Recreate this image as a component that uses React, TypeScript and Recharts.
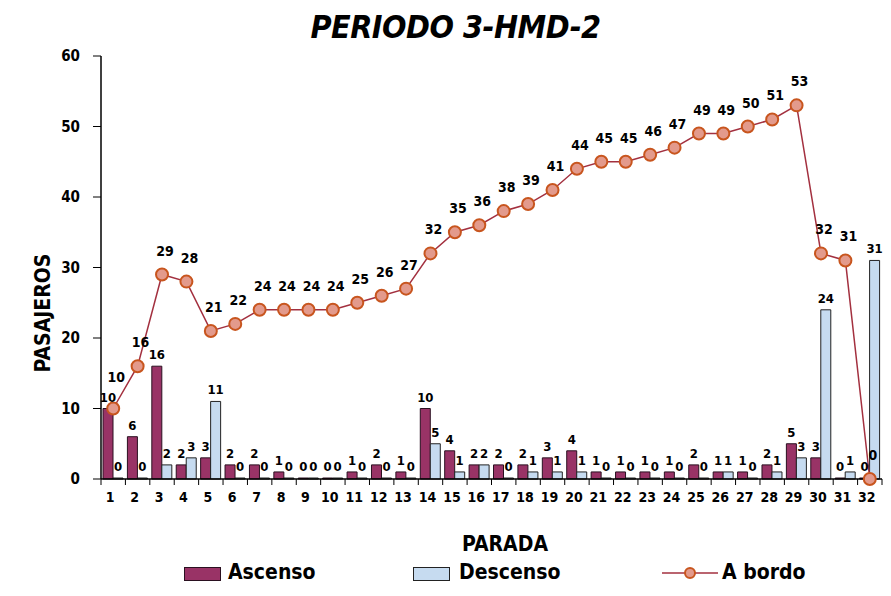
import React from "react";
import {
  ComposedChart,
  Bar,
  Line,
  XAxis,
  YAxis,
  LabelList,
} from "recharts";

const stops = [
  "1", "2", "3", "4", "5", "6", "7", "8", "9", "10", "11", "12", "13", "14", "15", "16",
  "17", "18", "19", "20", "21", "22", "23", "24", "25", "26", "27", "28", "29", "30", "31", "32",
];
const ascenso = [10, 6, 16, 2, 3, 2, 2, 1, 0, 0, 1, 2, 1, 10, 4, 2, 2, 2, 3, 4, 1, 1, 1, 1, 2, 1, 1, 2, 5, 3, 0, 0];
const descenso = [0, 0, 2, 3, 11, 0, 0, 0, 0, 0, 0, 0, 0, 5, 1, 2, 0, 1, 1, 1, 0, 0, 0, 0, 0, 1, 0, 1, 3, 24, 1, 31];
const aBordo = [10, 16, 29, 28, 21, 22, 24, 24, 24, 24, 25, 26, 27, 32, 35, 36, 38, 39, 41, 44, 45, 45, 46, 47, 49, 49, 50, 51, 53, 32, 31, 0];
const yTicks = [0, 10, 20, 30, 40, 50, 60];

const data = stops.map((s, i) => ({
  stop: s,
  ascenso: ascenso[i],
  descenso: descenso[i],
  aBordo: aBordo[i],
}));

const FONT = "'Liberation Sans Narrow', 'DejaVu Sans Condensed', 'Liberation Sans', sans-serif";
const ASC = "#993366";
const DESC = "#C6DBF0";
const LINE = "#A3303F";
const DOT_FILL = "#E39A8C";
const DOT_STROKE = "#C8551E";

const XTick = (props: any) => {
  const { x, y, payload, index } = props;
  const half = payload?.offset ?? 12.2;
  return (
    <g>
      <line x1={x - half} y1={y - 8} x2={x - half} y2={y - 2} stroke="#000" />
      {index === stops.length - 1 && (
        <line x1={x + half} y1={y - 8} x2={x + half} y2={y - 2} stroke="#000" />
      )}
      <text
        x={x - 3}
        y={y + 15}
        textAnchor="middle"
        fontFamily={FONT}
        fontWeight="bold"
        fontSize={14}
        fill="#000"
      >
        {payload.value}
      </text>
    </g>
  );
};

const LineLabel = (props: any) => {
  const { x, y, value, index } = props;
  // first point shares space with the bar label, nudge it up like the original
  const dy = index === 0 ? -8 : 0;
  return (
    <text
      x={x + 3}
      y={y - 19 + dy}
      textAnchor="middle"
      fontFamily={FONT}
      fontWeight="bold"
      fontSize={14}
      fill="#000"
    >
      {value}
    </text>
  );
};

const labelStyle = { fontFamily: FONT, fontWeight: "bold", fontSize: 13, fill: "#000" };

export default function App() {
  return (
    <div
      style={{
        position: "absolute",
        left: 0,
        top: 0,
        width: 891,
        height: 596,
        background: "#fff",
        overflow: "hidden",
        fontFamily: FONT,
      }}
    >
      <div
        style={{
          position: "absolute",
          top: 9,
          left: 0,
          width: 911,
          textAlign: "center",
          fontSize: 32,
          fontWeight: "bold",
          fontStyle: "italic",
          lineHeight: "36px",
          letterSpacing: -0.5,
        }}
      >
        PERIODO 3-HMD-2
      </div>
      <ComposedChart
        width={891}
        height={596}
        data={data}
        margin={{ top: 56, right: 9, left: 0, bottom: 0 }}
        barGap={0}
        barCategoryGap="9%"
      >
        <XAxis
          dataKey="stop"
          height={117}
          axisLine={{ stroke: "#000", strokeWidth: 1.5 }}
          tickLine={false}
          interval={0}
          tick={<XTick />}
          label={() => (
            <text
              x={505}
              y={551}
              textAnchor="middle"
              fontFamily={FONT}
              fontWeight="bold"
              fontSize={21}
              fill="#000"
            >
              PARADA
            </text>
          )}
        />
        <XAxis
          xAxisId="top"
          orientation="top"
          dataKey="stop"
          height={0}
          tick={false}
          tickLine={false}
          axisLine={{ stroke: "#222", strokeWidth: 1.5 }}
        />
        <YAxis
          width={101}
          domain={[0, 60]}
          ticks={yTicks}
          interval={0}
          axisLine={{ stroke: "#000", strokeWidth: 1.5 }}
          tickLine={{ stroke: "#000" }}
          tickSize={8}
          tickMargin={13}
          tick={{ fontFamily: FONT, fontWeight: "bold", fontSize: 15, fill: "#000" }}
          label={() => (
            <text
              x={50}
              y={313}
              transform="rotate(-90 50 313)"
              textAnchor="middle"
              fontFamily={FONT}
              fontWeight="bold"
              fontSize={21}
              fill="#000"
            >
              PASAJEROS
            </text>
          )}
        />
        <YAxis
          yAxisId="right"
          orientation="right"
          width={0}
          domain={[0, 60]}
          tick={false}
          tickLine={false}
          axisLine={{ stroke: "#333", strokeWidth: 1.5 }}
        />
        <Bar
          dataKey="ascenso"
          name="Ascenso"
          fill={ASC}
          stroke="#2a1020"
          strokeWidth={1}
          barSize={10}
          minPointSize={1}
          isAnimationActive={false}
        >
          <LabelList dataKey="ascenso" position="top" offset={7} style={labelStyle} />
        </Bar>
        <Bar
          dataKey="descenso"
          name="Descenso"
          fill={DESC}
          stroke="#222"
          strokeWidth={1}
          barSize={10}
          minPointSize={1}
          isAnimationActive={false}
        >
          <LabelList dataKey="descenso" position="top" offset={7} style={labelStyle} />
        </Bar>
        <Line
          dataKey="aBordo"
          name="A bordo"
          type="linear"
          stroke={LINE}
          strokeWidth={1.5}
          dot={{ r: 6, fill: DOT_FILL, stroke: DOT_STROKE, strokeWidth: 2 }}
          isAnimationActive={false}
        >
          <LabelList dataKey="aBordo" content={<LineLabel />} />
        </Line>
      </ComposedChart>
      <div
        style={{
          position: "absolute",
          top: 560,
          left: 0,
          width: 891,
          height: 26,
          fontSize: 21,
          fontWeight: "bold",
        }}
      >
        <span style={{ position: "absolute", left: 184, top: 7, width: 35, height: 12, background: ASC, border: "1px solid #2a1020" }} />
        <span style={{ position: "absolute", left: 228, top: 0 }}>Ascenso</span>
        <span style={{ position: "absolute", left: 413, top: 7, width: 35, height: 12, background: DESC, border: "1px solid #222" }} />
        <span style={{ position: "absolute", left: 459, top: 0 }}>Descenso</span>
        <svg style={{ position: "absolute", left: 660, top: 0 }} width={60} height={26}>
          <line x1={2} y1={13} x2={58} y2={13} stroke={LINE} strokeWidth={1.5} />
          <circle cx={30} cy={13} r={5} fill={DOT_FILL} stroke={DOT_STROKE} strokeWidth={2} />
        </svg>
        <span style={{ position: "absolute", left: 722, top: 0 }}>A bordo</span>
      </div>
    </div>
  );
}
